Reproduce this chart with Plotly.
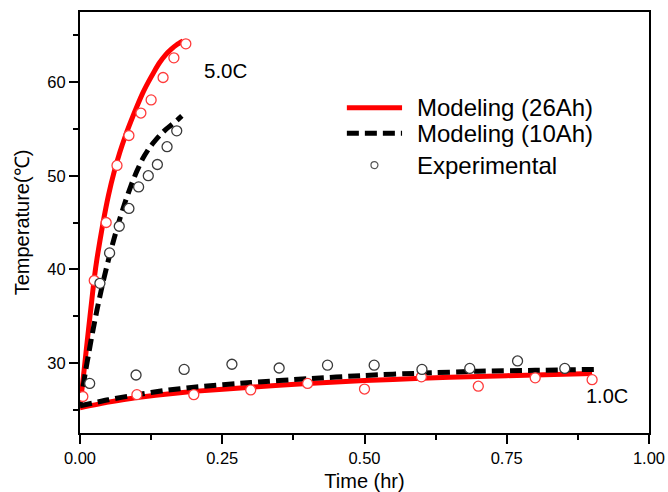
import plotly.graph_objects as go

# Modelled temperature rise, 5.0C discharge
t_5c_model_26 = [0, 0.005, 0.01, 0.015, 0.02, 0.025, 0.03, 0.04, 0.05, 0.06, 0.07,
                 0.08, 0.09, 0.10, 0.11, 0.12, 0.13, 0.14, 0.15, 0.16, 0.17, 0.181]
T_5c_model_26 = [25.4, 28.0, 30.8, 33.6, 36.3, 39.0, 41.2, 44.8, 47.9, 50.4, 52.5,
                 54.3, 55.9, 57.4, 58.8, 60.0, 61.1, 62.1, 62.9, 63.5, 64.0, 64.4]
t_5c_model_10 = [0, 0.005, 0.01, 0.015, 0.02, 0.03, 0.04, 0.05, 0.06, 0.07, 0.08,
                 0.09, 0.10, 0.11, 0.12, 0.13, 0.14, 0.15, 0.16, 0.17, 0.179]
T_5c_model_10 = [25.6, 27.3, 29.2, 30.9, 32.6, 35.7, 38.5, 41.0, 43.3, 45.4, 47.3,
                 49.0, 50.5, 51.8, 52.8, 53.6, 54.3, 54.9, 55.4, 55.9, 56.4]

# Modelled temperature rise, 1.0C discharge
t_1c_model_26 = [0, 0.05, 0.1, 0.15, 0.2, 0.3, 0.4, 0.5, 0.6, 0.7, 0.8, 0.9]
T_1c_model_26 = [25.2, 25.8, 26.3, 26.65, 26.95, 27.4, 27.8, 28.1, 28.35, 28.55, 28.7, 28.85]
t_1c_model_10 = [0, 0.05, 0.1, 0.15, 0.2, 0.3, 0.4, 0.5, 0.6, 0.7, 0.8, 0.905]
T_1c_model_10 = [25.4, 26.05, 26.6, 27.05, 27.4, 27.9, 28.3, 28.65, 28.9, 29.1, 29.2, 29.3]

# Measured temperatures
t_5c_exp_26 = [0.005, 0.025, 0.046, 0.065, 0.086, 0.107, 0.125, 0.146, 0.165, 0.186]
T_5c_exp_26 = [26.4, 38.8, 45.0, 51.1, 54.3, 56.7, 58.1, 60.5, 62.6, 64.1]
t_5c_exp_10 = [0.017, 0.035, 0.052, 0.069, 0.086, 0.103, 0.120, 0.136, 0.153, 0.170]
T_5c_exp_10 = [27.8, 38.5, 41.75, 44.6, 46.5, 48.8, 50.0, 51.2, 53.1, 54.8]
t_1c_exp_26 = [0.1, 0.2, 0.3, 0.4, 0.5, 0.6, 0.7, 0.8, 0.9]
T_1c_exp_26 = [26.6, 26.6, 27.1, 27.8, 27.2, 28.5, 27.5, 28.4, 28.2]
t_1c_exp_10 = [0.0985, 0.183, 0.267, 0.350, 0.435, 0.517, 0.601, 0.685, 0.769, 0.852]
T_1c_exp_10 = [28.7, 29.3, 29.85, 29.45, 29.75, 29.75, 29.3, 29.4, 30.2, 29.4]

series_names = ["Modeling (26Ah)", "Modeling (10Ah)", "Experimental"]
rate_labels = ["5.0C", "1.0C"]

RED = "#ff0000"
RED_MARK = "#ff3b3b"
DARK = "#3a3a3a"
DASH = "12px,6px"
FONT = "Liberation Sans, Arial, sans-serif"

fig = go.Figure()

fig.add_trace(go.Scatter(
    x=t_5c_model_26 + [None] + t_1c_model_26,
    y=T_5c_model_26 + [None] + T_1c_model_26,
    mode="lines", name=series_names[0], showlegend=False,
    line=dict(color=RED, width=5, shape="spline", smoothing=0.6),
))
fig.add_trace(go.Scatter(
    x=t_5c_model_10 + [None] + t_1c_model_10,
    y=T_5c_model_10 + [None] + T_1c_model_10,
    mode="lines", name=series_names[1], showlegend=False,
    line=dict(color="black", width=5, dash=DASH, shape="spline", smoothing=0.6),
))

circle = dict(symbol="circle", size=10, color="white")
fig.add_trace(go.Scatter(
    x=t_5c_exp_26 + t_1c_exp_26, y=T_5c_exp_26 + T_1c_exp_26,
    mode="markers", name=series_names[2], showlegend=False,
    marker=dict(circle, line=dict(color=RED_MARK, width=1.3)),
))
fig.add_trace(go.Scatter(
    x=t_5c_exp_10 + t_1c_exp_10, y=T_5c_exp_10 + T_1c_exp_10,
    mode="markers", name=series_names[2], showlegend=False,
    marker=dict(circle, line=dict(color=DARK, width=1.3)),
))

# Key: line samples and labels placed in paper space
key_x0, key_x1, key_text_x = 0.469, 0.566, 0.588
key_rows = [0.7725, 0.7117, 0.6363]
fig.add_shape(type="line", xref="paper", yref="paper",
              x0=key_x0, x1=key_x1, y0=key_rows[0], y1=key_rows[0],
              line=dict(color=RED, width=5))
fig.add_shape(type="line", xref="paper", yref="paper",
              x0=key_x0, x1=key_x1, y0=key_rows[1], y1=key_rows[1],
              line=dict(color="black", width=5, dash=DASH))
fig.add_shape(type="circle", xref="paper", yref="paper",
              xsizemode="pixel", ysizemode="pixel",
              xanchor=(key_x0 + key_x1) / 2, yanchor=key_rows[2],
              x0=-3.5, x1=3.5, y0=-3.5, y1=3.5,
              line=dict(color="#555555", width=1.2), fillcolor="white")
for name, yk in zip(series_names, key_rows):
    fig.add_annotation(xref="paper", yref="paper", x=key_text_x, y=yk,
                       xanchor="left", yanchor="middle", text=name,
                       showarrow=False,
                       font=dict(size=24, color="black", family=FONT))

fig.add_annotation(x=0.256, y=61.3, text=rate_labels[0], showarrow=False,
                   font=dict(size=20.5, color="black", family=FONT))
fig.add_annotation(x=0.926, y=26.5, text=rate_labels[1], showarrow=False,
                   font=dict(size=20, color="black", family=FONT))

axis_common = dict(
    showline=True, linecolor="black", linewidth=2, mirror=True,
    ticks="outside", ticklen=9, tickwidth=1.5, tickcolor="black",
    showgrid=False, zeroline=False, automargin=False,
    tickfont=dict(size=16.5, color="black", family=FONT),
)

fig.update_xaxes(
    axis_common, range=[0, 1], tick0=0, dtick=0.25, tickformat=".2f",
    minor=dict(ticks="outside", ticklen=5, tickwidth=1.5, tickcolor="black", dtick=0.125),
    title=dict(text="Time (hr)", font=dict(size=20, color="black", family=FONT), standoff=8),
)
fig.update_yaxes(
    axis_common, range=[22.5, 67.5], tick0=0, dtick=10,
    minor=dict(ticks="outside", ticklen=5, tickwidth=1.5, tickcolor="black", dtick=5),
    title=dict(text="Temperature(℃)", font=dict(size=20, color="black", family=FONT), standoff=12),
)

fig.update_layout(
    width=668, height=492,
    margin=dict(l=80, r=19, t=12, b=59),
    paper_bgcolor="white", plot_bgcolor="white",
    font=dict(family=FONT, color="black"),
    showlegend=False,
)

fig.write_html("out.html")
